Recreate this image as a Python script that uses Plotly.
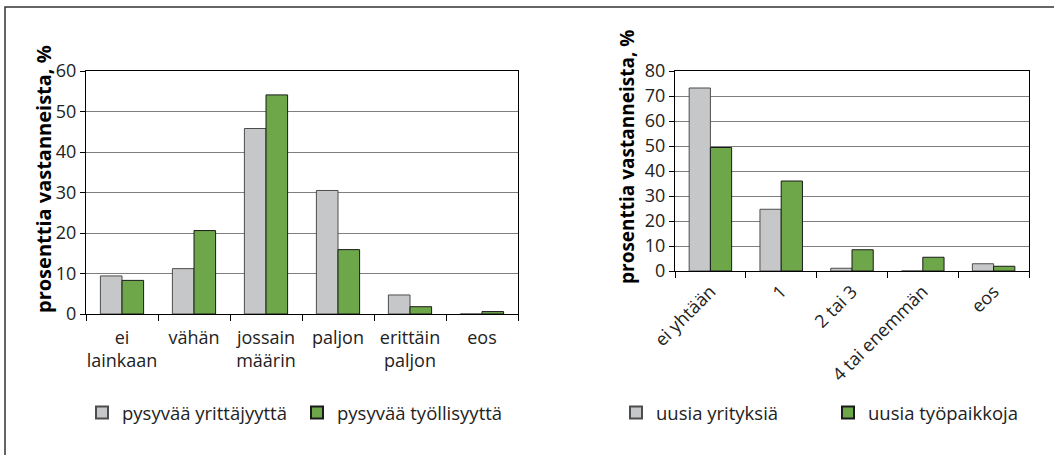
import plotly.graph_objects as go

# ---- data ----
left_categories = ["ei<br>lainkaan", "vähän", "jossain<br>määrin", "paljon", "erittäin<br>paljon", "eos"]
left_yrittajyys = [9.4, 11.2, 45.8, 30.5, 4.7, 0.0]
left_tyollisyys = [8.3, 20.6, 54.1, 15.9, 1.8, 0.6]

right_categories = ["ei yhtään", "1", "2 tai 3", "4 tai enemmän", "eos"]
right_yrityksia = [73.2, 24.7, 1.1, 0.0, 2.9]
right_tyopaikkoja = [49.4, 36.0, 8.5, 5.5, 1.9]

left_ticks = [0, 10, 20, 30, 40, 50, 60]
right_ticks = [0, 10, 20, 30, 40, 50, 60, 70, 80]

y_title = "prosenttia vastanneista, %"
W, H = 1054, 455

GRAY = "#c6c7c9"
GREEN = "#6ea64a"
FONT = "Open Sans"

fig = go.Figure()
fig.add_trace(go.Bar(x=left_categories, y=left_yrittajyys, name="pysyvää yrittäjyyttä",
                     marker=dict(color=GRAY, line=dict(color="#4d4d4d", width=1)),
                     xaxis="x", yaxis="y", legend="legend"))
fig.add_trace(go.Bar(x=left_categories, y=left_tyollisyys, name="pysyvää työllisyyttä",
                     marker=dict(color=GREEN, line=dict(color="#1a1a1a", width=1)),
                     xaxis="x", yaxis="y", legend="legend"))
fig.add_trace(go.Bar(x=right_categories, y=right_yrityksia, name="uusia yrityksiä",
                     marker=dict(color=GRAY, line=dict(color="#4d4d4d", width=1)),
                     xaxis="x2", yaxis="y2", legend="legend2"))
fig.add_trace(go.Bar(x=right_categories, y=right_tyopaikkoja, name="uusia työpaikkoja",
                     marker=dict(color=GREEN, line=dict(color="#1a1a1a", width=1)),
                     xaxis="x2", yaxis="y2", legend="legend2"))

def px_x(p):
    return p / W

def px_y(p):
    return (H - p) / H

xaxis_common = dict(type="category", showline=True, linecolor="black", linewidth=1, mirror=True,
                    ticks="outside", tickson="boundaries", ticklen=6, tickcolor="black",
                    tickfont=dict(family=FONT, size=18, color="#222"), showgrid=False,
                    automargin=False)
yaxis_common = dict(showline=True, linecolor="black", linewidth=1, mirror=True,
                    ticks="outside", ticklen=5, tickcolor="black",
                    showgrid=True, gridcolor="#7f7f7f", gridwidth=1,
                    tickfont=dict(family=FONT, size=18, color="#222"), zeroline=False,
                    automargin=False)

legend_common = dict(orientation="h", xanchor="left", yanchor="middle",
                     font=dict(family=FONT, size=18.5, color="#222"),
                     bgcolor="rgba(0,0,0,0)", entrywidthmode="pixels", itemsizing="constant")

fig.update_layout(
    width=W, height=H,
    margin=dict(l=0, r=0, t=0, b=0, autoexpand=False),
    paper_bgcolor="white", plot_bgcolor="white",
    barmode="group", bargap=0.4, bargroupgap=0,
    xaxis=dict(domain=[px_x(86), px_x(518)], anchor="y", range=[-0.5, 5.5], tickangle=0,
               ticklabelstandoff=7, **xaxis_common),
    yaxis=dict(domain=[px_y(314), px_y(71)], anchor="x", range=[0, 60], tickvals=left_ticks, **yaxis_common),
    xaxis2=dict(domain=[px_x(675), px_x(1029)], anchor="y2", range=[-0.5, 4.5], tickangle=-45,
                ticklabelstandoff=2, **xaxis_common),
    yaxis2=dict(domain=[px_y(271), px_y(71)], anchor="x2", range=[0, 80], tickvals=right_ticks, **yaxis_common),
    legend=dict(x=px_x(82), y=px_y(413), entrywidth=170, **legend_common),
    legend2=dict(x=px_x(616), y=px_y(413), entrywidth=167, **legend_common),
    showlegend=True,
)

fig.add_annotation(text="<b>" + y_title + "</b>", xref="paper", yref="paper",
                   x=px_x(43), y=px_y(179), xanchor="center", yanchor="middle",
                   textangle=-90, showarrow=False,
                   font=dict(family=FONT, size=20, color="black"))
fig.add_annotation(text="<b>" + y_title + "</b>", xref="paper", yref="paper",
                   x=px_x(627), y=px_y(157), xanchor="center", yanchor="middle",
                   textangle=-90, showarrow=False,
                   font=dict(family=FONT, size=19, color="black"))

fig.add_shape(type="rect", xref="paper", yref="paper",
              x0=px_x(5), x1=1.05, y0=-0.05, y1=px_y(7),
              line=dict(color="#333", width=1.5), layer="below")

fig.write_html("out.html", config={"displayModeBar": False},
               post_script="document.body.style.margin='0px';")
